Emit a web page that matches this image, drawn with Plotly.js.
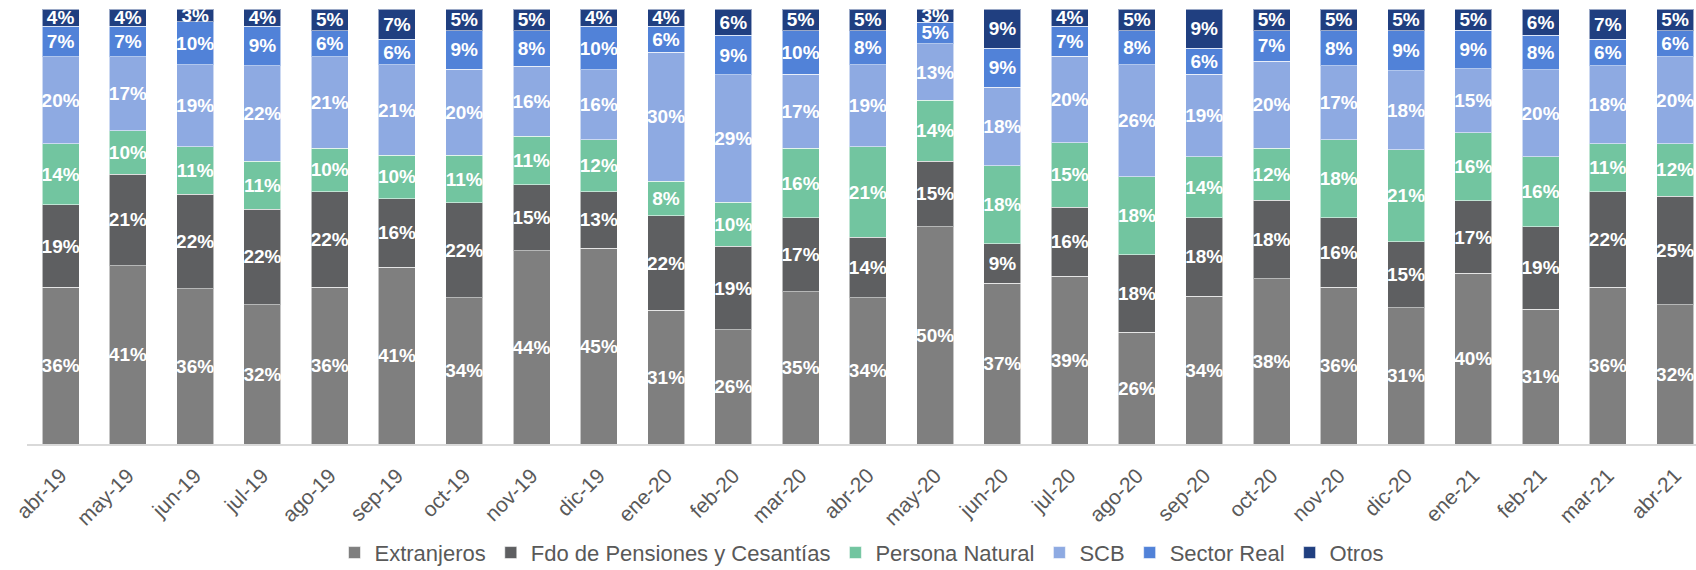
<!DOCTYPE html>
<html>
<head>
<meta charset="utf-8">
<script src="https://cdn.plot.ly/plotly-3.0.1.min.js"></script>
<style>html,body{margin:0;padding:0;background:#fff;}#chart{width:1696px;height:570px;}</style>
</head>
<body>
<div id="chart"></div>
<script>
const months = ["abr-19","may-19","jun-19","jul-19","ago-19","sep-19","oct-19","nov-19","dic-19","ene-20","feb-20","mar-20","abr-20","may-20","jun-20","jul-20","ago-20","sep-20","oct-20","nov-20","dic-20","ene-21","feb-21","mar-21","abr-21"];
const extranjeros = [36,41,36,32,36,41,34,44,45,31,26,35,34,50,37,39,26,34,38,36,31,40,31,36,32];
const fdoPensiones = [19,21,22,22,22,16,22,15,13,22,19,17,14,15,9,16,18,18,18,16,15,17,19,22,25];
const personaNatural = [14,10,11,11,10,10,11,11,12,8,10,16,21,14,18,15,18,14,12,18,21,16,16,11,12];
const scb = [20,17,19,22,21,21,20,16,16,30,29,17,19,13,18,20,26,19,20,17,18,15,20,18,20];
const sectorReal = [7,7,10,9,6,6,9,8,10,6,9,10,8,5,9,7,8,6,7,8,9,9,8,6,6];
const otros = [4,4,3,4,5,7,5,5,4,4,6,5,5,3,9,4,5,9,5,5,5,5,6,7,5];

const seriesNames = ["Extranjeros","Fdo de Pensiones y Cesantías","Persona Natural","SCB","Sector Real","Otros"];
const seriesValues = [extranjeros, fdoPensiones, personaNatural, scb, sectorReal, otros];
const seriesColors = ["#7f7f7f","#5e5f61","#72c5a0","#8eaae2","#5182d8","#203f80"];

const traces = seriesNames.map((name, i) => ({
  type: "bar",
  name: name,
  x: months,
  y: seriesValues[i],
  text: seriesValues[i].map(v => v + "%"),
  textposition: "inside",
  insidetextanchor: "middle",
  textangle: 0,
  constraintext: "none",
  textfont: {family: "Liberation Sans, Arial, sans-serif", size: 19, color: "#ffffff", weight: "bold"},
  marker: {color: seriesColors[i], line: {color: "rgba(255,255,255,0.55)", width: 1}},
  hoverinfo: "skip"
}));

const layout = {
  width: 1696,
  height: 570,
  margin: {l: 27, r: 0, t: 9, b: 126, pad: 0, autoexpand: false},
  barmode: "stack",
  barnorm: "percent",
  bargap: 0.45,
  paper_bgcolor: "#ffffff",
  plot_bgcolor: "#ffffff",
  showlegend: true,
  font: {family: "Liberation Sans, Arial, sans-serif", color: "#595959"},
  xaxis: {
    type: "category",
    range: [-0.5, 24.31],
    tickangle: -45,
    ticks: "",
    showgrid: false,
    zeroline: false,
    showline: true,
    linecolor: "#d9d9d9",
    linewidth: 2,
    automargin: false,
    ticklabelstandoff: 9,
    tickfont: {family: "Liberation Sans, Arial, sans-serif", size: 21, color: "#595959"}
  },
  yaxis: {
    range: [0, 100],
    visible: false,
    showgrid: false,
    zeroline: false
  },
  legend: {
    orientation: "h",
    x: 0.5,
    xanchor: "center",
    y: -0.25,
    yanchor: "middle",
    traceorder: "normal",
    font: {family: "Liberation Sans, Arial, sans-serif", size: 22, color: "#595959"},
    itemwidth: 30
  }
};

Plotly.newPlot("chart", traces, layout, {staticPlot: true, displayModeBar: false});
</script>
</body>
</html>
